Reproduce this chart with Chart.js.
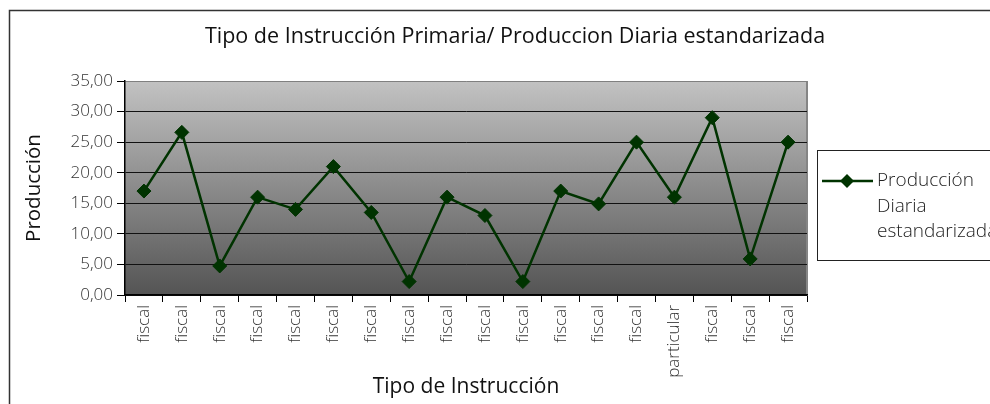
<!DOCTYPE html>
<html><head><meta charset="utf-8">
<script src="https://cdn.jsdelivr.net/npm/chart.js@4"></script>
<style>html,body{margin:0;padding:0;background:#fff}#wrap{width:990px;height:404px;overflow:hidden}</style>
</head><body><div id="wrap"><canvas id="c" width="990" height="404"></canvas></div>
<script>
const categories = ['fiscal','fiscal','fiscal','fiscal','fiscal','fiscal','fiscal','fiscal','fiscal','fiscal','fiscal','fiscal','fiscal','fiscal','particular','fiscal','fiscal','fiscal'];
const produccion = [17, 26.6, 4.75, 16, 14, 21, 13.5, 2.2, 16, 13, 2.2, 17, 14.9, 25, 16, 29, 5.9, 25];
const seriesName = 'Producción Diaria estandarizada';
const legendLines = ['Producción', 'Diaria', 'estandarizada'];
const chartTitle = 'Tipo de Instrucción Primaria/ Produccion Diaria estandarizada';
const yTitle = 'Producción';
const xTitle = 'Tipo de Instrucción';
const yMin = 0, yMax = 35, yStep = 5;

const FONT = '"Open Sans", "DejaVu Sans", sans-serif';
const LINE = '#003300';

const decor = {
  id: 'decor',
  beforeDraw(chart) {
    const ctx = chart.ctx, a = chart.chartArea;
    ctx.save();
    ctx.fillStyle = '#fff';
    ctx.fillRect(0, 0, chart.width, chart.height);
    ctx.strokeStyle = '#333';
    ctx.lineWidth = 1.5;
    ctx.strokeRect(9.5, 10.5, 1200, 600);
    const g = ctx.createLinearGradient(0, a.top, 0, a.bottom);
    g.addColorStop(0, '#c2c2c2');
    g.addColorStop(1, '#545454');
    ctx.fillStyle = g;
    ctx.fillRect(a.left, a.top, a.right - a.left, a.bottom - a.top);
    ctx.strokeStyle = '#858585';
    ctx.lineWidth = 2;
    ctx.beginPath();
    ctx.moveTo(a.right, a.top); ctx.lineTo(a.right, a.bottom);
    ctx.stroke();
    ctx.restore();
  },
  afterDraw(chart) {
    const ctx = chart.ctx;
    const ds = chart.data.datasets[0];
    ctx.save();
    ctx.fillStyle = '#111';
    ctx.font = '21.5px ' + FONT;
    ctx.textAlign = 'center';
    ctx.textBaseline = 'middle';
    ctx.fillText(chartTitle, 515, 37);
    // legend
    ctx.strokeStyle = '#222';
    ctx.lineWidth = 1;
    ctx.strokeRect(817.5, 150.5, 300, 110);
    ctx.strokeStyle = ds.borderColor;
    ctx.lineWidth = ds.borderWidth;
    ctx.beginPath(); ctx.moveTo(822, 181); ctx.lineTo(873, 181); ctx.stroke();
    ctx.fillStyle = ds.pointBackgroundColor;
    const r = ds.pointRadius;
    ctx.beginPath();
    ctx.moveTo(847, 181 - r); ctx.lineTo(847 + r, 181); ctx.lineTo(847, 181 + r); ctx.lineTo(847 - r, 181); ctx.closePath();
    ctx.fill();
    ctx.fillStyle = '#222';
    ctx.font = '300 19px ' + FONT;
    ctx.textAlign = 'left';
    legendLines.forEach((t, i) => ctx.fillText(t, 877, 181 + i * 25.5));
    ctx.restore();
  }
};

new Chart(document.getElementById('c'), {
  type: 'line',
  data: {
    labels: categories,
    datasets: [{
      label: seriesName,
      data: produccion,
      borderColor: LINE,
      backgroundColor: LINE,
      borderWidth: 2.5,
      pointStyle: 'rectRot',
      pointRadius: 7,
      pointHoverRadius: 7,
      pointBackgroundColor: LINE,
      pointBorderColor: LINE,
      pointBorderWidth: 1,
      tension: 0,
      fill: false
    }]
  },
  options: {
    responsive: false,
    devicePixelRatio: 1,
    animation: false,
    layout: { padding: { top: 81, right: 183, bottom: 0, left: 0 } },
    plugins: { legend: { display: false }, title: { display: false }, tooltip: { enabled: false } },
    scales: {
      x: {
        type: 'category',
        offset: true,
        afterFit(s) { s.height = 109; },
        grid: { offset: true, drawOnChartArea: false, tickLength: 7, color: '#000', tickColor: '#000', lineWidth: 1 },
        border: { display: true, color: '#000', width: 1.5 },
        ticks: { minRotation: 90, maxRotation: 90, autoSkip: false, padding: 3, color: '#333', font: { family: FONT, size: 17, weight: '300' } },
        title: { display: true, text: xTitle, color: '#111', font: { family: FONT, size: 21 }, padding: { top: 0, bottom: 4 } }
      },
      y: {
        min: yMin, max: yMax,
        afterFit(s) { s.width = 125; },
        grid: { color: (c) => c.tick && c.tick.value === yMax ? '#808080' : '#111', tickLength: 8, tickColor: '#000', lineWidth: 1 },
        border: { display: true, color: '#000', width: 1.5 },
        ticks: { stepSize: yStep, padding: 4, color: '#333', font: { family: FONT, size: 17, weight: '300' },
          callback: (v) => Number(v).toFixed(2).replace('.', ',') },
        title: { display: true, text: yTitle, color: '#111', font: { family: FONT, size: 20.5 }, padding: { top: 22, bottom: 0 } }
      }
    }
  },
  plugins: [decor]
});
</script>
</body></html>
